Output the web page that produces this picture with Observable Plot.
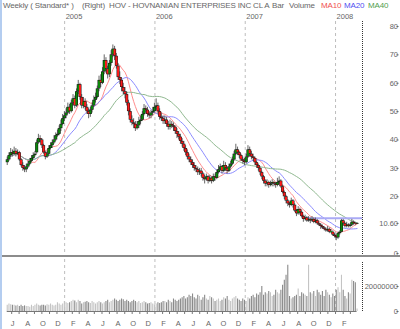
<!DOCTYPE html>
<html><head><meta charset="utf-8">
<script src="https://cdn.jsdelivr.net/npm/d3@7"></script>
<script src="https://cdn.jsdelivr.net/npm/@observablehq/plot@0.6"></script>
<style>
body{margin:0;background:#fff;}
#c{position:relative;width:400px;height:329px;overflow:hidden;background:#fff;font-family:"Liberation Sans",Arial,sans-serif;}
.h{position:absolute;top:1px;font-size:8px;letter-spacing:-0.15px;color:#666;white-space:nowrap;line-height:10px}
#c svg{position:absolute;left:0;display:block;overflow:visible}
</style></head><body><div id="c"></div>
<script>
// ---- data (weekly bars, HOV) ----
const firstWeek = "2004-05-14";
const opens = [32,33,34.5,35.5,35,36,35,35.5,33,31,30,29.5,30.5,31.5,32.5,33.5,34.5,35.5,39,40.5,40,38,35.5,34,35,37,38,39,40,41.5,42,44,45.5,47.5,48.5,49.5,51.5,50,53,54.5,52,57,59.5,55,52,53.5,51.5,50,49,50.5,52,54,55,58,61,60,64,68,65,63,67,70,72,69.5,66,62,61,58.5,57,56,53,50,47,46,45.5,44,45,46.5,47,49,51,50.5,49,48.5,49.5,50,51.5,52,50,48,47.5,46.5,47,45.5,44.5,45.5,45,44.5,43,42,41,39.5,38.5,37,35.5,34,33,32,31,30,29.5,28.5,29,28,26.5,26,27,25.5,26.5,25.5,27,26.5,28.5,29.5,30.5,29,31,30,29,30.5,31.5,33,35,36.5,35.5,34.5,33,32.5,32,34,36.5,35,34,33.5,32,31,30,28.5,27,25.5,24.5,25,24,24.5,25,24.5,24,25,25.5,23.5,21.5,20,18.5,17.5,17,18.5,17,15,14,15.5,14.5,13,12,12.5,11.5,12,11.5,12,11,11.5,10.5,10,9.5,9,8.5,8,8.5,7.5,7.5,6.5,6,5.5,7,7.5,11.5,10.5,9.5,10,9.5,10,11,10.5,10.3];
const highs = [34,35.5,37,36.5,37.5,37,36.5,36,33.5,32,31,31.5,32.5,33.5,34.5,35.5,36,40,42,41.5,40.5,38.5,36,36,38,39,40,41.5,42.5,43.5,45,47,49,50,51,53,52.5,54,56,55.5,58,61,60,56,55,54.5,52.5,51,51.5,53,55.5,56.5,59,62.5,63,65.5,70,69,66,68,71.5,73.5,73,70.5,67,64,62,60,58.5,57,54,51,48.5,47.5,46.5,46.5,48,48.5,50,52.5,52,51.5,50,50.5,51.5,53,54.5,53,51,49.5,48.5,48.5,48,46.5,47,46.5,46,45,44,43,42,40.5,39.5,38,36.5,35,34,33,32,31,30.5,30,30,28.5,27.5,28,27.5,27.5,27,28,28,29.5,31,31.5,31,32.5,32,30.5,31.5,32.5,34,36,38.5,37.5,36,35,34,33.5,35,38,37.5,36,35,34,32.5,31.5,30.5,29,27.5,26,26,25.5,25.5,26,25.5,25,26.5,27,26,24,22,20.5,19,18,19.5,19,17.5,15.5,16.5,16,15,13.5,13.5,13,13,12.5,13,12.5,12.5,12,11,10.5,10,9.5,9,9.5,9,8.5,8,7,6.5,7.5,8,12,12,11,11,10.5,10.5,12,11.5,11,10.8];
const lows = [31,32.5,34,34,34.5,34,34.5,32.5,30.5,29,28.5,28.5,30,31,32,33,34,35,38.5,39,37,35,33,33.5,34.5,36.5,37,38.5,39.5,41,41.5,43,45,46.5,47.5,49,49,49.5,52,51,51.5,56,54,51,51,50.5,49,47.5,48,49.5,51.5,53,54.5,57,58.5,59.5,63,63.5,61.5,62,66,69,68,65,61,59.5,57,56,54.5,52,48.5,46,45,44,43,43.5,44,45.5,46.5,48.5,49.5,48,47.5,47.5,48.5,49.5,50.5,49,47,46.5,45.5,45.5,44.5,43.5,43.5,44,43,42,40.5,40,38.5,37.5,36,34.5,33,32,31,30,29,28.5,27.5,27.5,27,25.5,24.5,25.5,24.5,25,24.5,25,25.5,26,28,29,28,28.5,29,28,28.5,30,31,32.5,34.5,34.5,33.5,32.5,31.5,31,31.5,33.5,34,33,32.5,31,30,29,27.5,26,24.5,23.5,23.5,23,23.5,23.5,23.5,23,23.5,24.5,23,21,19,17.5,16.5,16,16.5,16,14.5,13,13.5,13.5,12.5,11,11.5,11,11,10.5,11,10.5,10.5,10,9.5,8.5,8.5,8,7.5,7.5,7,7,6,5.5,4.5,5,6.5,7.5,10,9,9,9,9,9.5,10,9.8,10.3];
const closes = [33,34.5,35.5,35,36,35,35.5,33,31,30,29.5,30.5,31.5,32.5,33.5,34.5,35,39,40.5,40,38,35.5,34,35,37,38,39,40,41.5,42,44,45.5,47.5,48.5,49.5,51.5,50,53,54.5,52,57,59.5,55,52,53.5,51.5,50,49,50.5,52,54,55,58,61,60,64,68,65,63,67,70,72,69.5,66,62,61,58.5,57,56,53,50,47,46,45.5,44,45,46.5,47,49,51,50.5,49,48.5,49.5,50,51.5,52,50,48,47.5,46.5,47,45.5,44.5,45.5,45,44.5,43,42,41,39.5,38.5,37,35.5,34,33,32,31,30,29.5,28.5,29,28,26.5,26,27,25.5,26.5,25.5,27,26.5,28.5,29.5,30.5,29,31,30,29,30.5,31.5,33,35,36.5,35.5,34.5,33,32.5,32,34,36.5,35,34,33.5,32,31,30,28.5,27,25.5,24.5,25,24,24.5,25,24.5,24,25,25.5,23.5,21.5,20,18.5,17.5,17,18.5,17,15,14,15.5,14.5,13,12,12.5,11.5,12,11.5,12,11,11.5,10.5,10,9.5,9,8.5,8,8.5,7.5,7.5,6.5,6,5.5,7,7.5,11.5,10.5,9.5,10,9.5,10,11,10.5,10.3,10.6];
// weekly volume, millions of shares
const volumes = [5,6,5.5,5,5,4.5,5,4,5,4,4.5,4,4,3.5,5,4,5,6,5,4.5,5,5,4.5,5.5,5,6,5,4.5,5,7,6,5,6,8,7,6.5,7,8,9,8.5,7,9,8,6,7,7.5,8,7,6.5,8,7,6,7,8,7,6,7,8,9,7,8,9,10,9,8,9,10,9.5,8,9,8,7,8,9,8,7,8,6.5,7,8,7,6,6.5,7,6,5.5,6,7,6.5,7,8,8,7,9,8,7,10,9,8,9,10,11,12,10,11,13,12,14,11,10,13,12,9,11,13,10,9,12,11,10,8,9,10,8,9,11,10,12,9,8,10,11,12,10,9,8,10,9,8,11,10,12,13,11,14,13,15,20,13,15,14,16,15,12,13,17,15,14,17,21,25,29,37,12,10,11,12,13,18,12,15,14,13,12,37,15,14,16,12,17,15,13,16,12,17,15,13,11,14,12,17,19,15,29,17,12,10,15,14,25,24,23,2];
const priceTicks = [0,10.6,20,30,40,50,60,70,80];
const volumeTicks = [0,20];
const monthLetters = ["J","F","M","A","M","J","J","A","S","O","N","D"];
const resistanceLevel = 12.4;
const resistanceFrom = "2007-09-07";
const maPeriods = [10,20,40];
const maColors = ["#ff8c8c","#8c8cff","#8fb88f"];

// ---- build table ----
const t0 = new Date(firstWeek + "T00:00:00Z");
const data = closes.map((c,i)=>({
  date: new Date(+t0 + i*7*864e5),
  open: opens[i], high: highs[i], low: lows[i], close: c, volume: volumes[i],
  top: Math.max(opens[i], c), bot: Math.min(opens[i], c), up: c >= opens[i]
}));
const xDomain = [new Date("2004-05-07T00:00:00Z"), new Date("2008-04-19T00:00:00Z")];
const years = d3.utcYears(xDomain[0], xDomain[1]).filter(d => +d > +xDomain[0]);
const months = d3.utcMonths(xDomain[0], xDomain[1]);
const labelMonths = months.filter(d => d.getUTCMonth() % 2 === 1 && +d >= +new Date("2004-06-01") && +d <= +data[data.length-1].date);
const font = {fontFamily:'"Liberation Sans",Arial,sans-serif', fontSize:"7.5px", color:"#666", background:"#fff"};

const price = Plot.plot({
  width: 400, height: 258,
  marginLeft: 5, marginRight: 38, marginTop: 21, marginBottom: 1,
  x: {type: "utc", domain: xDomain, label: null},
  y: {domain: [0, 80], range: [253, 26], label: null},
  style: font,
  marks: [
    Plot.ruleX(years, {stroke: "#bdbdbd", strokeDasharray: "3,3"}),
    Plot.axisX({anchor: "top", ticks: years, tickFormat: d => String(d.getUTCFullYear()), tickSize: 0, tickPadding: 3, textAnchor: "start", dx: 1, fill: "#666", label: null}),
    ...maPeriods.map((k, j) => Plot.lineY(data, Plot.windowY({k, anchor: "end", reduce: "mean"}, {x: "date", y: "close", stroke: maColors[j], strokeWidth: 1}))),
    Plot.ruleY([{level: resistanceLevel, from: new Date(resistanceFrom + "T00:00:00Z"), to: xDomain[1]}], {y: "level", x1: "from", x2: "to", stroke: "#aaaaf5", strokeWidth: 2}),
    Plot.ruleX(data, {x: "date", y1: "high", y2: "low", stroke: "#666", strokeWidth: 1}),
    Plot.ruleX(data, {x: "date", y1: "top", y2: "bot", stroke: "#111", strokeWidth: 3}),
    Plot.ruleX(data, {x: "date", y1: "top", y2: "bot", stroke: d => d.up ? "#0a8a0a" : "#ff1a1a", strokeWidth: 2, insetTop: 0.5, insetBottom: 0.5}),
    Plot.ruleX([xDomain[1]], {stroke: "#333", strokeDasharray: "1,1"}),
    Plot.axisY({anchor: "right", ticks: priceTicks, tickFormat: d => d === 10.6 ? "10.60" : String(d), tickSize: 2, tickPadding: 0, textAnchor: "end", dx: 33.5, fill: "#666", label: null})
  ]
});

const vol = Plot.plot({
  width: 400, height: 71,
  marginLeft: 5, marginRight: 38, marginTop: 1, marginBottom: 18,
  x: {type: "utc", domain: xDomain, label: null},
  y: {domain: [0, 40], range: [53, 3], label: null},
  style: font,
  marks: [
    Plot.ruleX(years, {stroke: "#bdbdbd", strokeDasharray: "3,3"}),
    Plot.ruleX(data, {x: "date", y1: 0, y2: "volume", stroke: d => d.up ? "#c4c4c4" : "#8a8a8a", strokeWidth: 1.1}),
    Plot.ruleY([0], {x1: data[0].date, x2: data[data.length-1].date, stroke: "#777"}),
    Plot.axisX({anchor: "bottom", ticks: months.filter(d => +d >= +data[0].date && +d <= +data[data.length-1].date), tickSize: 3, tickFormat: () => "", stroke: "#777", label: null}),
    Plot.axisX({anchor: "bottom", ticks: labelMonths, tickSize: 0, tickPadding: 9, tickFormat: d => monthLetters[d.getUTCMonth()], dx: 1, fill: "#666", label: null}),
    Plot.ruleX([xDomain[1]], {y1: 0, y2: 40, stroke: "#333", strokeDasharray: "1,1"}),
    Plot.axisY({anchor: "right", ticks: volumeTicks, tickFormat: d => String(d * 1000000), tickSize: 2, tickPadding: 0, textAnchor: "end", dx: 33.5, fill: "#666", label: null})
  ]
});

const c = document.getElementById("c");
price.style.top = "0px";
vol.style.top = "258px";
c.appendChild(price);
c.appendChild(vol);
// separator between panels and left border
const sep = document.createElement("div");
sep.style.cssText = "position:absolute;left:0;top:255px;width:400px;height:2px;background:#8c8c8c";
c.appendChild(sep);
const lb = document.createElement("div");
lb.style.cssText = "position:absolute;left:0;top:0;width:2px;height:329px;background:#b4cdf0";
c.appendChild(lb);
// header
const header = [
  ["Weekly ( Standard* )", 3, "#666"],
  ["(Right)", 82, "#666"],
  ["HOV - HOVNANIAN ENTERPRISES INC CL A", 109, "#666"],
  ["Bar", 272, "#666"],
  ["Volume", 289, "#666"],
  ["MA10", 321, "#f05050"],
  ["MA20", 344, "#5050f0"],
  ["MA40", 368, "#50a050"]
];
for (const [txt, left, col] of header) {
  const s = document.createElement("div");
  s.className = "h";
  s.textContent = txt;
  s.style.left = left + "px";
  s.style.color = col;
  c.appendChild(s);
}
</script></body></html>
